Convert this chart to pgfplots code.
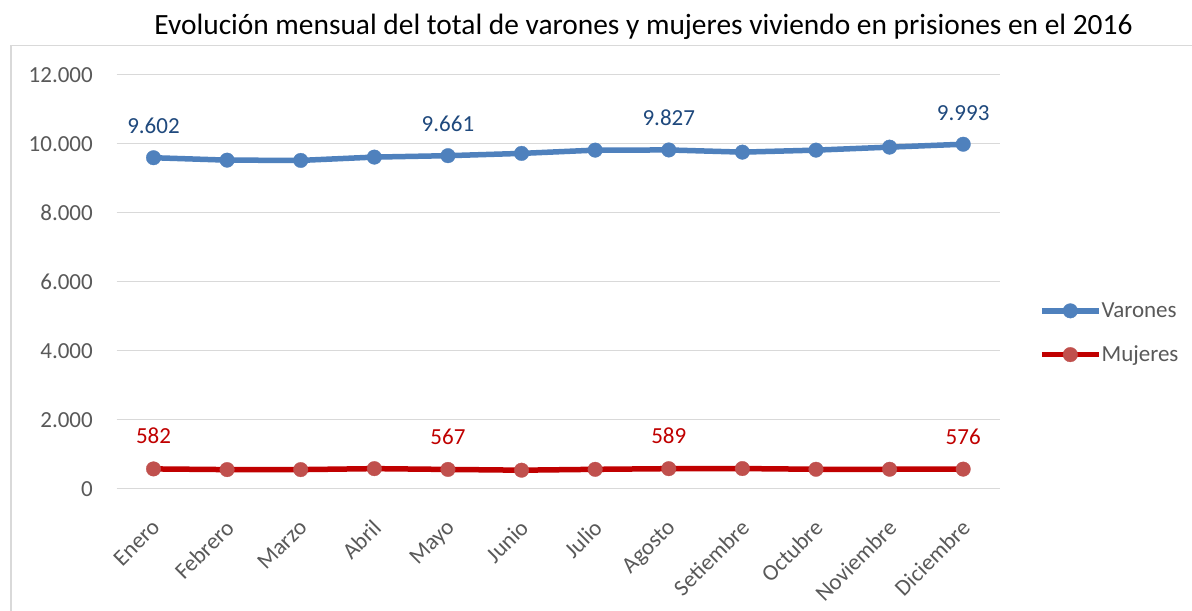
\documentclass[border=0pt]{standalone}
\usepackage{fontspec}
\setmainfont{Carlito}
\usepackage{pgfplots}
\pgfplotsset{compat=1.18}
\definecolor{varon}{HTML}{4F81BD}
\definecolor{varonlbl}{HTML}{1F497D}
\definecolor{mujer}{HTML}{C00000}
\definecolor{mujermk}{HTML}{C0504D}
\definecolor{gridc}{HTML}{D9D9D9}
\definecolor{tickc}{HTML}{595959}
\newcommand{\fs}{\fontsize{23bp}{27bp}\selectfont}
\begin{document}
\begin{tikzpicture}[x=1bp,y=1bp]
\useasboundingbox (0,0) rectangle (1192,611);
\fill[white] (0,0) rectangle (1192,611);
\draw[gridc, line width=1.5bp] (10.75,0) -- (10.75,565.5) -- (1192,565.5);
\node[anchor=base, font=\fontsize{29.4bp}{34bp}\selectfont, inner sep=0] at (643.5,576) {Evolución mensual del total de varones y mujeres viviendo en prisiones en el 2016};
\begin{axis}[
  at={(116.7bp,122bp)}, anchor=south west,
  width=883.3bp, height=414bp, scale only axis,
  xmin=-0.5, xmax=11.5, ymin=0, ymax=12000,
  axis line style={draw=none},
  xtick={0,...,11},
  xticklabels={Enero,Febrero,Marzo,Abril,Mayo,Junio,Julio,Agosto,Setiembre,Octubre,Noviembre,Diciembre},
  ytick={0,2000,...,12000},
  ymajorgrids, grid style={gridc, line width=1bp},
  major tick length=0pt,
  scaled y ticks=false,
  /pgf/number format/1000 sep={.},
  /pgf/number format/assume math mode=true,
  yticklabel style={font=\fs, text=tickc, anchor=east, inner sep=0pt, xshift=-23.7bp},
  xticklabel style={font=\fs, text=tickc, inner sep=0pt, xshift=-3bp, yshift=-29bp, rotate=45, anchor=north east},
  legend style={draw=none, fill=none, inner sep=0pt, font=\fs, text=tickc,
    at={(rel axis cs:1.044,0.3768)}, anchor=west, row sep=27bp,
    nodes={inner sep=0pt},
    /tikz/every even column/.append style={column sep=4bp}},
  legend cell align=left,
  legend image code/.code={\draw[mark repeat=2,mark phase=2] plot coordinates {(0bp,0bp) (28.5bp,0bp) (57bp,0bp)};},
]
\addplot[varon, line width=5.5bp, mark=*, mark size=7.3bp, mark options={solid, fill=varon, draw=varon, line width=0.3bp}]
  coordinates {(0,9602) (1,9532) (2,9524) (3,9620) (4,9661) (5,9727) (6,9822) (7,9827) (8,9764) (9,9822) (10,9909) (11,9993)};
\addlegendentry{Varones}
\addplot[mujer, line width=5.5bp, mark=*, mark size=7.3bp, mark options={solid, fill=mujermk, draw=mujermk, line width=0.3bp}]
  coordinates {(0,582) (1,562) (2,562) (3,590) (4,567) (5,545) (6,570) (7,589) (8,592) (9,572) (10,572) (11,576)};
\addlegendentry{Mujeres}
\addplot[draw=none, forget plot, nodes near coords, point meta=y,
  every node near coord/.append style={font=\fs, text=varonlbl, anchor=base, inner sep=0pt, yshift=24bp}]
  coordinates {(0,9602) (4,9661) (7,9827) (11,9993)};
\addplot[draw=none, forget plot, nodes near coords, point meta=y,
  every node near coord/.append style={font=\fs, text=mujer, anchor=base, inner sep=0pt, yshift=25bp}]
  coordinates {(0,582) (4,567) (7,589) (11,576)};
\end{axis}
\end{tikzpicture}
\end{document}
